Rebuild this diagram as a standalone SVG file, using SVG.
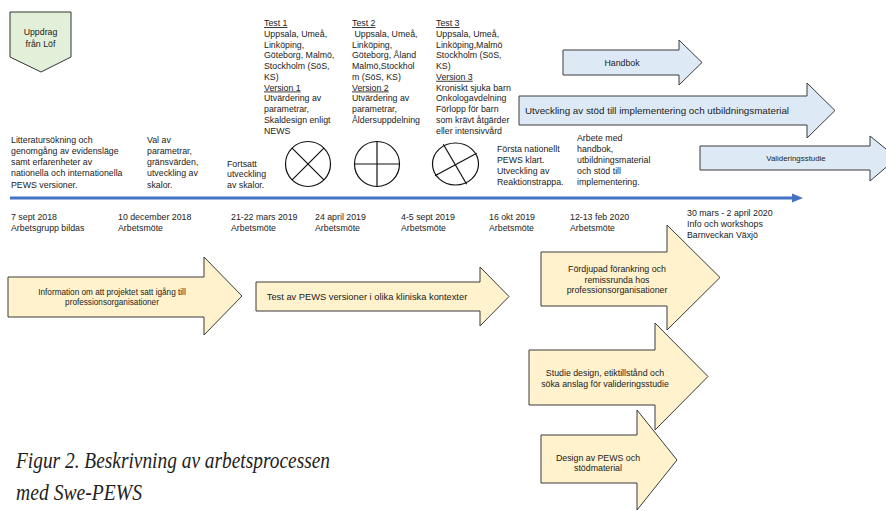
<svg xmlns="http://www.w3.org/2000/svg" width="886" height="511" viewBox="0 0 886 511">
<defs>
<style>
text{font-family:"Liberation Sans",Arial,sans-serif;font-size:8.8px;fill:#222}
.c{text-anchor:middle}
.u{text-decoration:underline}
.blue{fill:#DDEAF6;stroke:#3a3a3a;stroke-width:1}
.yel{fill:#FFF2CC;stroke:#3a3a3a;stroke-width:1}
.sym{fill:none;stroke:#111;stroke-width:1.2}
.cap{font-family:"Liberation Serif","Times New Roman",serif;font-style:italic;font-size:23px;fill:#222}
</style>
</defs>
<rect width="886" height="511" fill="#fff"/>

<g id="connectors">
<line x1="10" y1="198" x2="795" y2="198" stroke="#4472C4" stroke-width="3"/>
<polygon points="792,193.5 803,198 792,202.5" fill="#4472C4"/>
</g>

<g id="uppdrag">
<polygon points="10,12 71,12 71,57 41,72 10,57" fill="#E2F0D9" stroke="#333" stroke-width="1"/>
<text class="c" x="40.5" y="35">Uppdrag</text>
<text class="c" x="40.5" y="46.5">från Löf</text>
</g>

<g id="litteratur">
<text x="11" y="142.5">Litteratursökning och</text>
<text x="11" y="153.8">genomgång av evidensläge</text>
<text x="11" y="165.1">samt erfarenheter av</text>
<text x="11" y="176.4">nationella och internationella</text>
<text x="11" y="187.7">PEWS versioner.</text>
</g>

<g id="val">
<text x="147" y="142.5">Val av</text>
<text x="147" y="153.8">parametrar,</text>
<text x="147" y="165.1">gränsvärden,</text>
<text x="147" y="176.4">utveckling av</text>
<text x="147" y="187.7">skalor.</text>
</g>

<g id="fortsatt">
<text x="227" y="166.5">Fortsatt</text>
<text x="227" y="177">utveckling</text>
<text x="227" y="187.7">av skalor.</text>
</g>

<g id="test1">
<text x="264" y="26" class="u">Test 1</text>
<text x="264" y="36.8">Uppsala, Umeå,</text>
<text x="264" y="47.5">Linköping,</text>
<text x="264" y="58.3">Göteborg, Malmö,</text>
<text x="264" y="69">Stockholm (SöS,</text>
<text x="264" y="79.8">KS)</text>
<text x="264" y="90.5" class="u">Version 1</text>
<text x="264" y="101.3">Utvärdering av</text>
<text x="264" y="112">parametrar,</text>
<text x="264" y="122.8">Skaldesign enligt</text>
<text x="264" y="133.5">NEWS</text>
</g>

<g id="test2">
<text x="352" y="26" class="u">Test 2</text>
<text x="352" y="36.8" xml:space="preserve"> Uppsala, Umeå,</text>
<text x="352" y="47.5">Linköping,</text>
<text x="352" y="58.3">Göteborg, Åland</text>
<text x="352" y="69">Malmö,Stockhol</text>
<text x="352" y="79.8">m (SöS, KS)</text>
<text x="352" y="90.5" class="u">Version 2</text>
<text x="352" y="101.3">Utvärdering av</text>
<text x="352" y="112">parametrar,</text>
<text x="352" y="122.8">Åldersuppdelning</text>
</g>

<g id="test3">
<text x="436" y="26" class="u">Test 3</text>
<text x="436" y="36.8">Uppsala, Umeå,</text>
<text x="436" y="47.5">Linköping,Malmö</text>
<text x="436" y="58.3">Stockholm (SöS,</text>
<text x="436" y="69">KS)</text>
<text x="436" y="79.8" class="u">Version 3</text>
<text x="436" y="90.5">Kroniskt sjuka barn</text>
<text x="436" y="101.3">Onkologavdelning</text>
<text x="436" y="112">Förlopp för barn</text>
<text x="436" y="122.8">som krävt åtgärder</text>
<text x="436" y="133.5">eller intensivvård</text>
</g>

<g id="symbol1">
<circle class="sym" cx="308" cy="164" r="22.5"/>
<line class="sym" x1="292.1" y1="148.1" x2="323.9" y2="179.9"/>
<line class="sym" x1="292.1" y1="179.9" x2="323.9" y2="148.1"/>
</g>
<g id="symbol2">
<circle class="sym" cx="377" cy="164" r="22.5"/>
<line class="sym" x1="354.5" y1="164" x2="399.5" y2="164"/>
<line class="sym" x1="377" y1="141.5" x2="377" y2="186.5"/>
</g>
<g id="symbol3">
<ellipse class="sym" cx="455.5" cy="164" rx="23" ry="21"/>
<line class="sym" x1="443.3" y1="144.3" x2="466.7" y2="184.3"/>
<line class="sym" x1="435" y1="175.7" x2="476.7" y2="153.3"/>
</g>

<g id="forsta">
<text x="497" y="151.5">Första nationellt</text>
<text x="497" y="162.5">PEWS klart.</text>
<text x="497" y="173.5">Utveckling av</text>
<text x="497" y="184.5">Reaktionstrappa.</text>
</g>

<g id="arbete">
<text x="577" y="140.5">Arbete med</text>
<text x="577" y="151.5">handbok,</text>
<text x="577" y="162.5">utbildningsmaterial</text>
<text x="577" y="173.5">och stöd till</text>
<text x="577" y="184.5">implementering.</text>
</g>

<g id="handbok">
<polygon class="blue" points="563,50 679,50 679,40 702,62.5 679,85 679,75 563,75"/>
<text class="c" x="622" y="65.5">Handbok</text>
</g>
<g id="utveckling">
<polygon class="blue" points="519,96 807,96 807,83 835,110.5 807,138 807,125 519,125"/>
<text class="c" x="657" y="114" style="font-size:9.8px">Utveckling av stöd till implementering och utbildningsmaterial</text>
</g>
<g id="validering">
<polygon class="blue" points="700,146 870,146 870,136 897,158 870,181 870,170 700,170"/>
<text class="c" x="796" y="161" style="font-size:7.9px">Valideringsstudie</text>
</g>

<g id="dates">
<text x="11" y="219.5">7 sept 2018</text>
<text x="11" y="231">Arbetsgrupp bildas</text>
<text x="118" y="219.5">10 december 2018</text>
<text x="118" y="231">Arbetsmöte</text>
<text x="231" y="219.5">21-22 mars 2019</text>
<text x="231" y="231">Arbetsmöte</text>
<text x="315" y="219.5">24 april 2019</text>
<text x="315" y="231">Arbetsmöte</text>
<text x="401" y="219.5">4-5 sept 2019</text>
<text x="401" y="231">Arbetsmöte</text>
<text x="489" y="219.5">16 okt 2019</text>
<text x="489" y="231">Arbetsmöte</text>
<text x="570" y="219.5">12-13 feb 2020</text>
<text x="570" y="231">Arbetsmöte</text>
<text x="687" y="215.5">30 mars - 2 april 2020</text>
<text x="687" y="226.5">Info och workshops</text>
<text x="687" y="237.5">Barnveckan Växjö</text>
</g>

<g id="information">
<polygon class="yel" points="8,277 204,277 204,257 242,296 204,335 204,317 8,317"/>
<text class="c" x="112" y="294.5" style="font-size:8.2px">Information om att projektet satt igång till</text>
<text class="c" x="112" y="304.5" style="font-size:8.2px">professionsorganisationer</text>
</g>
<g id="test-kontexter">
<polygon class="yel" points="256,282 480,282 480,267 509,296.5 480,326 480,311 256,311"/>
<text class="c" x="367" y="299.5" style="font-size:9.3px">Test av PEWS versioner i olika kliniska kontexter</text>
</g>
<g id="fordjupad">
<polygon class="yel" points="541,252 667,252 667,225 720,277.5 667,330 667,306 541,306"/>
<text class="c" x="617" y="272">Fördjupad förankring och</text>
<text class="c" x="617" y="282.5">remissrunda hos</text>
<text class="c" x="617" y="293">professionsorganisationer</text>
</g>
<g id="studie">
<polygon class="yel" points="529,350 655,350 655,323 708,376.5 655,430 655,405 529,405"/>
<text class="c" x="605" y="376">Studie design, etiktillstånd och</text>
<text class="c" x="605" y="387">söka anslag för valideringsstudie</text>
</g>
<g id="design">
<polygon class="yel" points="541,435 637,435 637,410 677,460 637,510 637,483 541,483"/>
<text class="c" x="598" y="460.5">Design av PEWS och</text>
<text class="c" x="598" y="471">stödmaterial</text>
</g>

<g id="caption">
<text class="cap" x="16" y="468" textLength="314" lengthAdjust="spacingAndGlyphs">Figur 2. Beskrivning av arbetsprocessen</text>
<text class="cap" x="16" y="500" textLength="126" lengthAdjust="spacingAndGlyphs">med Swe-PEWS</text>
</g>
</svg>
